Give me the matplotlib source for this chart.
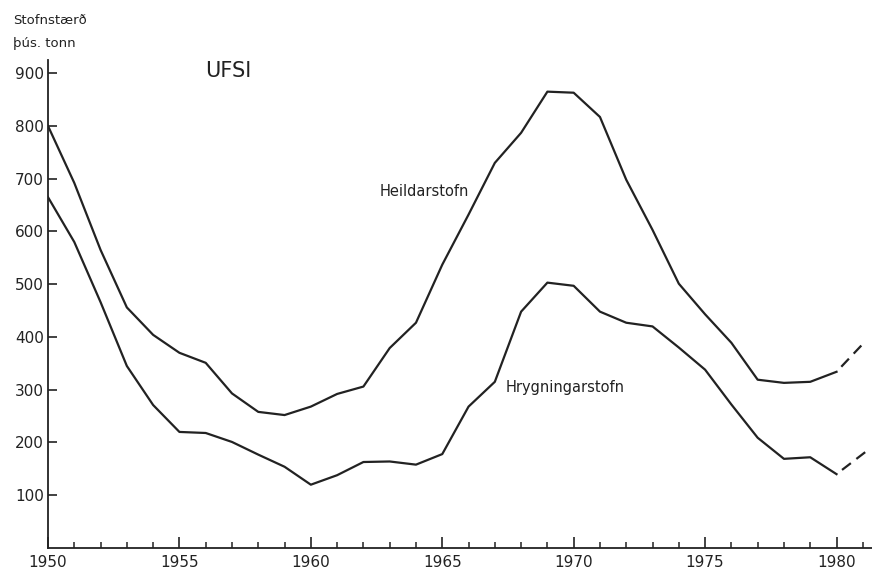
import matplotlib.pyplot as plt
from matplotlib.ticker import MultipleLocator

# Stofnstærð ufsa (þús. tonn)
years = list(range(1950, 1981))
heildarstofn = [800, 692, 565, 456, 404, 370, 351, 293, 258, 252,
                268, 292, 306, 379, 427, 537, 632, 730, 787, 865,
                863, 817, 698, 603, 501, 443, 389, 319, 313, 315, 334]
hrygningarstofn = [665, 580, 466, 345, 271, 220, 218, 201, 177, 154,
                   120, 138, 163, 164, 158, 178, 268, 315, 448, 503,
                   497, 448, 427, 420, 380, 338, 272, 209, 169, 172, 140]
proj_years = [1980, 1981.1]
heildar_proj = [334, 392]
hrygning_proj = [140, 182]

plt.rcParams['lines.scale_dashes'] = False

fig = plt.figure(figsize=(8.72, 5.73), dpi=100)
ax = fig.add_axes([48 / 872, 25 / 573, 1 - 48 / 872, (548 - 60) / 573])

col = '#222222'
ax.plot(years, heildarstofn, color=col, lw=1.6)
ax.plot(years, hrygningarstofn, color=col, lw=1.6)
ax.plot(proj_years, heildar_proj, color=col, lw=1.6, linestyle=(8, (8, 5)))
ax.plot(proj_years, hrygning_proj, color=col, lw=1.6, linestyle=(8, (8, 5)))

ax.set_xlim(1950, 1981.35)
ax.set_ylim(0, 925)

ax.spines['top'].set_visible(False)
ax.spines['right'].set_visible(False)
ax.spines['left'].set_color(col)
ax.spines['bottom'].set_color(col)
ax.spines['left'].set_linewidth(1.3)
ax.spines['bottom'].set_linewidth(1.3)

ax.xaxis.set_major_locator(MultipleLocator(5))
ax.xaxis.set_minor_locator(MultipleLocator(1))
ax.set_yticks([100, 200, 300, 400, 500, 600, 700, 800, 900])
ax.tick_params(axis='x', which='major', direction='in', length=8, width=1.2,
               color=col, labelsize=11, pad=5, labelcolor=col)
ax.tick_params(axis='x', which='minor', direction='in', length=4.5, width=1.1,
               color=col)
ax.tick_params(axis='y', direction='in', length=6.5, width=1.2, color=col,
               labelsize=11, pad=3, labelcolor=col)

fig.text(13 / 872, 1 - 21 / 573, 'Stofnstærð', fontsize=9.5, color=col,
         va='center', ha='left')
fig.text(13 / 872, 1 - 44 / 573, 'þús. tonn', fontsize=9.5, color=col,
         va='center', ha='left')
fig.text(205 / 872, 1 - 71 / 573, 'UFSI', fontsize=15, color=col,
         va='center', ha='left')

ax.text(1964.33, 675, 'Heildarstofn', fontsize=10.5, color=col,
        ha='center', va='center')
ax.text(1969.66, 304, 'Hrygningarstofn', fontsize=10.5, color=col,
        ha='center', va='center')

fig.savefig('out.png', dpi=100)
